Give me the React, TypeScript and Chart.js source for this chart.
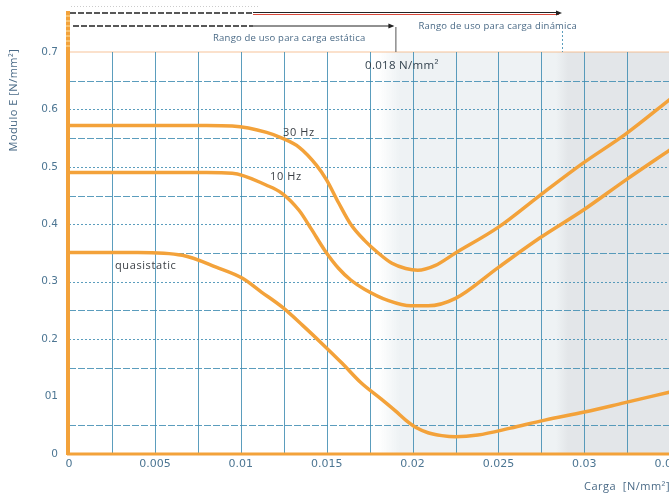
import { useEffect, useRef } from "react";
import { Chart, registerables } from "chart.js";

Chart.register(...registerables);

// ---- data ----
const X_30HZ = [0, 0.005, 0.008, 0.0095, 0.0115, 0.0124, 0.0134, 0.0144, 0.015, 0.0157, 0.0164, 0.0172, 0.018, 0.0188, 0.0196, 0.0203, 0.0213, 0.0225, 0.025, 0.0274, 0.0299, 0.0324, 0.035];
const Y_30HZ = [0.572, 0.572, 0.572, 0.571, 0.56, 0.55, 0.534, 0.503, 0.477, 0.437, 0.4, 0.372, 0.35, 0.332, 0.323, 0.32, 0.328, 0.35, 0.395, 0.45, 0.506, 0.557, 0.618];

const X_10HZ = [0, 0.005, 0.008, 0.0095, 0.0115, 0.0124, 0.0134, 0.0141, 0.0149, 0.0157, 0.0164, 0.0172, 0.0186, 0.0199, 0.0209, 0.0225, 0.025, 0.0274, 0.0299, 0.0324, 0.035];
const Y_10HZ = [0.49, 0.49, 0.49, 0.489, 0.468, 0.454, 0.424, 0.392, 0.354, 0.323, 0.303, 0.287, 0.267, 0.258, 0.258, 0.271, 0.325, 0.376, 0.424, 0.477, 0.53];

const X_QS = [0, 0.004, 0.0066, 0.0086, 0.0101, 0.0112, 0.0124, 0.0136, 0.0147, 0.0159, 0.017, 0.0182, 0.019, 0.0196, 0.0202, 0.0209, 0.0217, 0.0225, 0.0238, 0.0257, 0.0277, 0.03, 0.0323, 0.035];
const Y_QS = [0.351, 0.351, 0.346, 0.325, 0.306, 0.282, 0.256, 0.224, 0.193, 0.158, 0.124, 0.095, 0.075, 0.059, 0.046, 0.037, 0.032, 0.03, 0.033, 0.045, 0.059, 0.073, 0.089, 0.108];

const X_TICK_LABELS = ["0", "0.005", "0.01", "0.015", "0.02", "0.025", "0.03", "0.035"];
const Y_TICK_LABELS = ["0", "01", "0.2", "0.3", "0.4", "0.5", "0.6", "0.7"];

const STATIC_LIMIT = 0.019; // end of static range arrow
const DYNAMIC_LIMIT = 0.0287; // end of dynamic range arrow
const SHADE_START = 0.018;

const ORANGE = "#f3a23a";
const GRID_BLUE = "rgba(62,140,178,0.85)";
const FONT = "'Open Sans', 'DejaVu Sans', sans-serif";
const TICK_FONT = "'DejaVu Sans', sans-serif";

const toPts = (xs: number[], ys: number[]) => xs.map((x, i) => ({ x, y: ys[i] }));

const decor = {
  id: "decor",
  beforeDatasetsDraw(chart: any) {
    const { ctx, chartArea: a, scales } = chart;
    const x = scales.x;
    const y = scales.y;
    ctx.save();
    // shading
    const s0 = x.getPixelForValue(SHADE_START);
    const s1 = x.getPixelForValue(DYNAMIC_LIMIT);
    const g1 = ctx.createLinearGradient(s0, 0, s0 + 22, 0);
    g1.addColorStop(0, "rgba(238,242,244,0)");
    g1.addColorStop(1, "#eef2f4");
    ctx.fillStyle = g1;
    ctx.fillRect(s0, a.top, s1 - s0, a.bottom - a.top);
    const g2 = ctx.createLinearGradient(s1 - 6, 0, s1 + 6, 0);
    g2.addColorStop(0, "#eef2f4");
    g2.addColorStop(1, "#e3e6e9");
    ctx.fillStyle = g2;
    ctx.fillRect(s1 - 6, a.top, a.right - s1 + 6, a.bottom - a.top);

    // top border (light orange)
    ctx.strokeStyle = "rgba(245,175,120,0.5)";
    ctx.lineWidth = 1.5;
    ctx.beginPath();
    ctx.moveTo(a.left, a.top);
    ctx.lineTo(a.right, a.top);
    ctx.stroke();

    // vertical grid
    ctx.lineWidth = 1;
    ctx.strokeStyle = GRID_BLUE;
    x.ticks.forEach((t: any, i: number) => {
      if (i === 0) return;
      const px = Math.round(x.getPixelForValue(t.value)) + 0.5;
      ctx.beginPath();
      ctx.moveTo(px, a.top);
      ctx.lineTo(px, a.bottom);
      ctx.stroke();
    });
    // horizontal grid
    y.ticks.forEach((t: any, i: number) => {
      if (i === 0 || i === 2 || i === y.ticks.length - 1) return;
      const py = Math.round(y.getPixelForValue(t.value)) + 0.5;
      ctx.setLineDash(i % 2 === 0 ? [2, 2] : [7, 2]);
      ctx.beginPath();
      ctx.moveTo(a.left, py);
      ctx.lineTo(a.right, py);
      ctx.stroke();
    });
    ctx.restore();
  },
  afterDatasetsDraw(chart: any) {
    const { ctx, chartArea: a, scales } = chart;
    const x = scales.x;
    ctx.save();
    // axes
    ctx.setLineDash([]);
    ctx.strokeStyle = ORANGE;
    ctx.lineWidth = 3;
    ctx.beginPath();
    ctx.moveTo(a.left - 2, a.bottom);
    ctx.lineTo(chart.width, a.bottom);
    ctx.stroke();
    ctx.lineWidth = 4;
    ctx.beginPath();
    ctx.moveTo(a.left - 1, 11);
    ctx.lineTo(a.left - 1, a.bottom + 1);
    ctx.stroke();
    // light stripes at the top of the y axis
    ctx.strokeStyle = "rgba(255,235,180,0.9)";
    ctx.lineWidth = 1;
    for (let yy = 16; yy < 50; yy += 5) {
      ctx.beginPath();
      ctx.moveTo(a.left - 3, yy);
      ctx.lineTo(a.left + 1, yy);
      ctx.stroke();
    }

    const xs = x.getPixelForValue(STATIC_LIMIT);
    const xd = x.getPixelForValue(DYNAMIC_LIMIT);
    const xmid = 253;
    const arrow = (xe: number, yy: number) => {
      ctx.fillStyle = "#222";
      ctx.beginPath();
      ctx.moveTo(xe, yy);
      ctx.lineTo(xe - 6, yy - 2.5);
      ctx.lineTo(xe - 6, yy + 2.5);
      ctx.closePath();
      ctx.fill();
    };
    // faint dotted line on top
    ctx.strokeStyle = "rgba(170,170,170,0.6)";
    ctx.setLineDash([1, 2]);
    ctx.lineWidth = 1;
    ctx.beginPath();
    ctx.moveTo(a.left + 2, 6.5);
    ctx.lineTo(260, 6.5);
    ctx.stroke();
    // top arrow (dynamic)
    ctx.strokeStyle = "#222";
    ctx.lineWidth = 1.5;
    ctx.setLineDash([6, 2]);
    ctx.beginPath();
    ctx.moveTo(a.left + 1, 13);
    ctx.lineTo(xmid, 13);
    ctx.stroke();
    ctx.setLineDash([]);
    ctx.strokeStyle = "#d9483a";
    ctx.lineWidth = 1;
    ctx.beginPath();
    ctx.moveTo(xmid, 14.5);
    ctx.lineTo(xd - 3, 14.5);
    ctx.stroke();
    ctx.strokeStyle = "#222";
    ctx.beginPath();
    ctx.moveTo(xmid, 12.5);
    ctx.lineTo(xd - 3, 12.5);
    ctx.stroke();
    arrow(xd, 13);
    // second arrow (static)
    ctx.lineWidth = 1.5;
    ctx.setLineDash([6, 2]);
    ctx.beginPath();
    ctx.moveTo(a.left + 4, 26);
    ctx.lineTo(xmid, 26);
    ctx.stroke();
    ctx.setLineDash([]);
    ctx.lineWidth = 1;
    ctx.beginPath();
    ctx.moveTo(xmid, 26);
    ctx.lineTo(xs - 3, 26);
    ctx.stroke();
    arrow(xs - 1, 26);
    ctx.strokeStyle = "#555";
    ctx.beginPath();
    ctx.moveTo(xs + 0.5, 27);
    ctx.lineTo(xs + 0.5, a.top);
    ctx.stroke();
    // dotted vertical at dynamic limit
    ctx.strokeStyle = GRID_BLUE;
    ctx.setLineDash([2, 2]);
    ctx.beginPath();
    ctx.moveTo(Math.round(xd) + 0.5, 31);
    ctx.lineTo(Math.round(xd) + 0.5, a.top);
    ctx.stroke();
    ctx.setLineDash([]);

    // texts
    ctx.textBaseline = "middle";
    ctx.fillStyle = "#4a6a86";
    ctx.font = `9.5px ${FONT}`;
    ctx.letterSpacing = "0.2px";
    ctx.textAlign = "right";
    ctx.fillText("Rango de uso para carga estática", xs - 30, 38);
    ctx.textAlign = "left";
    ctx.fillText("Rango de uso para carga dinámica", xs + 23, 26);
    ctx.fillStyle = "#34434f";
    ctx.font = `11.5px ${FONT}`;
    ctx.letterSpacing = "0.3px";
    ctx.fillText("0.018 N/mm²", 365, 66);
    ctx.fillStyle = "#3a3f45";
    ctx.font = `11px ${FONT}`;
    ctx.letterSpacing = "0.6px";
    ctx.fillText("30 Hz", 283, 133);
    ctx.fillText("10 Hz", 270, 177);
    ctx.fillText("quasistatic", 115, 266);
    // axis titles
    ctx.fillStyle = "#4a6a86";
    ctx.font = `11px ${FONT}`;
    ctx.letterSpacing = "0.5px";
    ctx.textAlign = "right";
    ctx.fillText("Carga  [N/mm²]", 670, 487);
    ctx.translate(14, 100);
    ctx.rotate(-Math.PI / 2);
    ctx.textAlign = "center";
    ctx.fillText("Modulo E [N/mm²]", 0, 0);
    ctx.restore();
  },
};

export default function App() {
  const ref = useRef<HTMLCanvasElement | null>(null);
  useEffect(() => {
    if (!ref.current) return;
    const line = (label: string, xs: number[], ys: number[]) => ({
      label,
      data: toPts(xs, ys),
      borderColor: ORANGE,
      borderWidth: 3.5,
      pointRadius: 0,
      cubicInterpolationMode: "monotone" as const,
      fill: false,
    });
    const chart = new Chart(ref.current, {
      type: "line",
      data: {
        datasets: [
          line("30 Hz", X_30HZ, Y_30HZ),
          line("10 Hz", X_10HZ, Y_10HZ),
          line("quasistatic", X_QS, Y_QS),
        ],
      },
      options: {
        animation: false,
        responsive: true,
        maintainAspectRatio: false,
        layout: { padding: { top: 52, right: 16, left: 0, bottom: 0 } },
        plugins: { legend: { display: false }, tooltip: { enabled: false } },
        scales: {
          x: {
            type: "linear",
            min: 0,
            max: 0.035,
            grid: { display: false, drawTicks: false },
            border: { display: false },
            afterFit: (s: any) => {
              s.height = 41;
            },
            ticks: {
              stepSize: 0.0025,
              autoSkip: false,
              maxRotation: 0,
              padding: 4,
              color: "#4d7693",
              font: { family: TICK_FONT, size: 11 },
              callback: (v: any) => {
                const i = Math.round(Number(v) / 0.0025);
                return i % 2 === 0 ? X_TICK_LABELS[i / 2] ?? "" : "";
              },
            },
          },
          y: {
            min: 0,
            max: 0.7,
            grid: { display: false, drawTicks: false },
            border: { display: false },
            afterFit: (s: any) => {
              s.width = 69;
            },
            ticks: {
              stepSize: 0.05,
              autoSkip: false,
              padding: 11,
              color: "#4d7693",
              font: { family: TICK_FONT, size: 10.5 },
              callback: (v: any) => {
                const i = Math.round(Number(v) / 0.05);
                return i % 2 === 0 ? Y_TICK_LABELS[i / 2] ?? "" : "";
              },
            },
          },
        },
      },
      plugins: [decor],
    });
    return () => chart.destroy();
  }, []);
  return (
    <div style={{ position: "absolute", left: 0, top: 0, width: 669, height: 495, overflow: "hidden", background: "#fff" }}>
      <div style={{ width: 690, height: 495, position: "relative" }}>
        <canvas ref={ref} />
      </div>
    </div>
  );
}
